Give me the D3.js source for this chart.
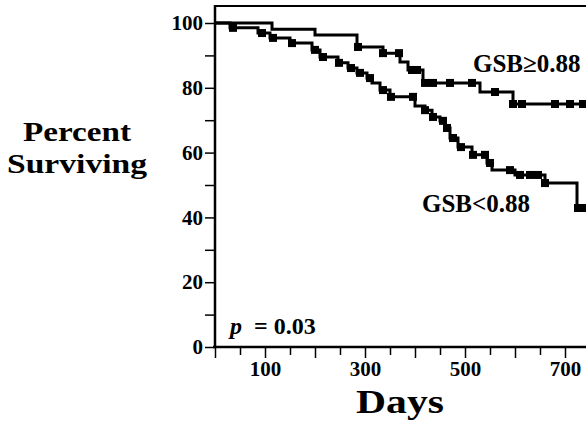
<!DOCTYPE html>
<html>
<head>
<meta charset="utf-8">
<script src="https://cdn.jsdelivr.net/npm/d3@7"></script>
<style>
  html, body { margin: 0; padding: 0; background: #fff; }
  svg { display: block; }
  text { font-family: "Liberation Serif", "Times New Roman", serif; font-weight: bold; fill: #000; }
</style>
</head>
<body>
<svg id="chart" width="586" height="428"></svg>
<script>
// GSB >= 0.88 : step times (days) and percent surviving after each step
const hiDays = [0, 114, 200, 284, 336, 370, 386, 416, 530, 596];
const hiPct  = [100, 98.1, 96.3, 92.6, 90.7, 88.0, 85.5, 81.5, 78.7, 75.0];
const hiCensor = [286, 336, 368, 394, 404, 420, 436, 470, 514, 560, 596, 614, 680, 710, 736];

// GSB < 0.88
const loDays = [0, 30, 86, 110, 150, 194, 210, 246, 266, 284, 304, 314, 330, 350, 400, 420, 434, 450, 460, 470, 486, 514, 544, 554, 600, 660, 724];
const loPct  = [100, 98.5, 96.9, 95.4, 93.8, 91.7, 89.5, 87.7, 86.1, 84.6, 83.0, 81.5, 79.3, 77.2, 74.4, 73.1, 71.0, 69.8, 67.6, 64.5, 61.7, 59.3, 56.8, 54.6, 53.1, 50.6, 42.9];
const loCensor = [36, 94, 116, 154, 200, 216, 248, 272, 290, 310, 336, 352, 396, 420, 436, 456, 464, 476, 492, 516, 540, 550, 590, 610, 630, 646, 660, 726, 738];

const xTickLabels = [100, 300, 500, 700];
const yTickLabels = [0, 20, 40, 60, 80, 100];
const endDay = 760;

const svg = d3.select('#chart');
const x = d3.scaleLinear().domain([0, 750]).range([215, 590]);
const y = d3.scaleLinear().domain([0, 100]).range([347, 23]);

// frame: top border
svg.append('line').attr('x1', x(0)).attr('x2', 590).attr('y1', 6).attr('y2', 6)
  .attr('stroke', '#000').attr('stroke-width', 2);

// y axis
const yAxis = d3.axisLeft(y).tickValues(d3.range(0, 101, 10)).tickSize(10)
  .tickFormat(d => yTickLabels.includes(d) ? d : '');
const gy = svg.append('g').attr('transform', `translate(${x(0)},0)`).call(yAxis);
gy.attr('font-family', null);
gy.select('.domain').remove();
gy.append('line').attr('x1', 0).attr('x2', 0).attr('y1', 5).attr('y2', y(0) + 1)
  .attr('stroke', '#000').attr('stroke-width', 2.5);
gy.selectAll('.tick line').attr('stroke-width', 1.5);
gy.selectAll('.tick text').attr('x', -12).style('font-size', '21px');

// x axis
const xAxis = d3.axisBottom(x).tickValues(d3.range(0, 751, 50)).tickSize(10)
  .tickFormat(d => xTickLabels.includes(d) ? d : '');
const gx = svg.append('g').attr('transform', `translate(0,${y(0)})`).call(xAxis);
gx.attr('font-family', null);
gx.select('.domain').remove();
gx.append('line').attr('x1', x(0) - 2).attr('x2', 590).attr('y1', 0).attr('y2', 0)
  .attr('stroke', '#000').attr('stroke-width', 2.5);
gx.selectAll('.tick line').attr('stroke-width', 1.5).attr('y2', d => d % 100 === 0 ? 11 : 8);
gx.selectAll('.tick text').attr('y', 14).style('font-size', '21px');

// survival curves
const line = d3.line().x(d => x(d[0])).y(d => y(d[1])).curve(d3.curveStepAfter);

function drawCurve(days, pct, censor) {
  const pts = days.map((d, i) => [d, pct[i]]);
  pts.push([endDay, pct[pct.length - 1]]);
  svg.append('path').datum(pts).attr('d', line)
    .attr('fill', 'none').attr('stroke', '#000').attr('stroke-width', 3);
  const level = d => pct[d3.bisectRight(days, d) - 1];
  svg.append('g').selectAll('rect').data(censor).join('rect')
    .attr('x', d => x(d) - 4).attr('y', d => y(level(d)) - 4)
    .attr('width', 8).attr('height', 8).attr('fill', '#000');
}
drawCurve(hiDays, hiPct, hiCensor);
drawCurve(loDays, loPct, loCensor);

// labels
svg.append('text').attr('x', 473).attr('y', 72).style('font-size', '25px').text('GSB≥0.88');
svg.append('text').attr('x', 422).attr('y', 212).style('font-size', '25px').text('GSB<0.88');

const pLabel = svg.append('text').attr('x', 230).attr('y', 334).style('font-size', '24px');
pLabel.append('tspan').style('font-style', 'italic').text('p');
pLabel.append('tspan').attr('dx', 12).text('= 0.03');

svg.append('text').attr('x', 400).attr('y', 413).attr('text-anchor', 'middle')
  .style('font-size', '34px').attr('textLength', 88).attr('lengthAdjust', 'spacingAndGlyphs').text('Days');

svg.append('text').attr('x', 77).attr('y', 141).attr('text-anchor', 'middle')
  .style('font-size', '28px').attr('textLength', 108).attr('lengthAdjust', 'spacingAndGlyphs').text('Percent');
svg.append('text').attr('x', 77).attr('y', 173).attr('text-anchor', 'middle')
  .style('font-size', '28px').attr('textLength', 140).attr('lengthAdjust', 'spacingAndGlyphs').text('Surviving');
</script>
</body>
</html>
